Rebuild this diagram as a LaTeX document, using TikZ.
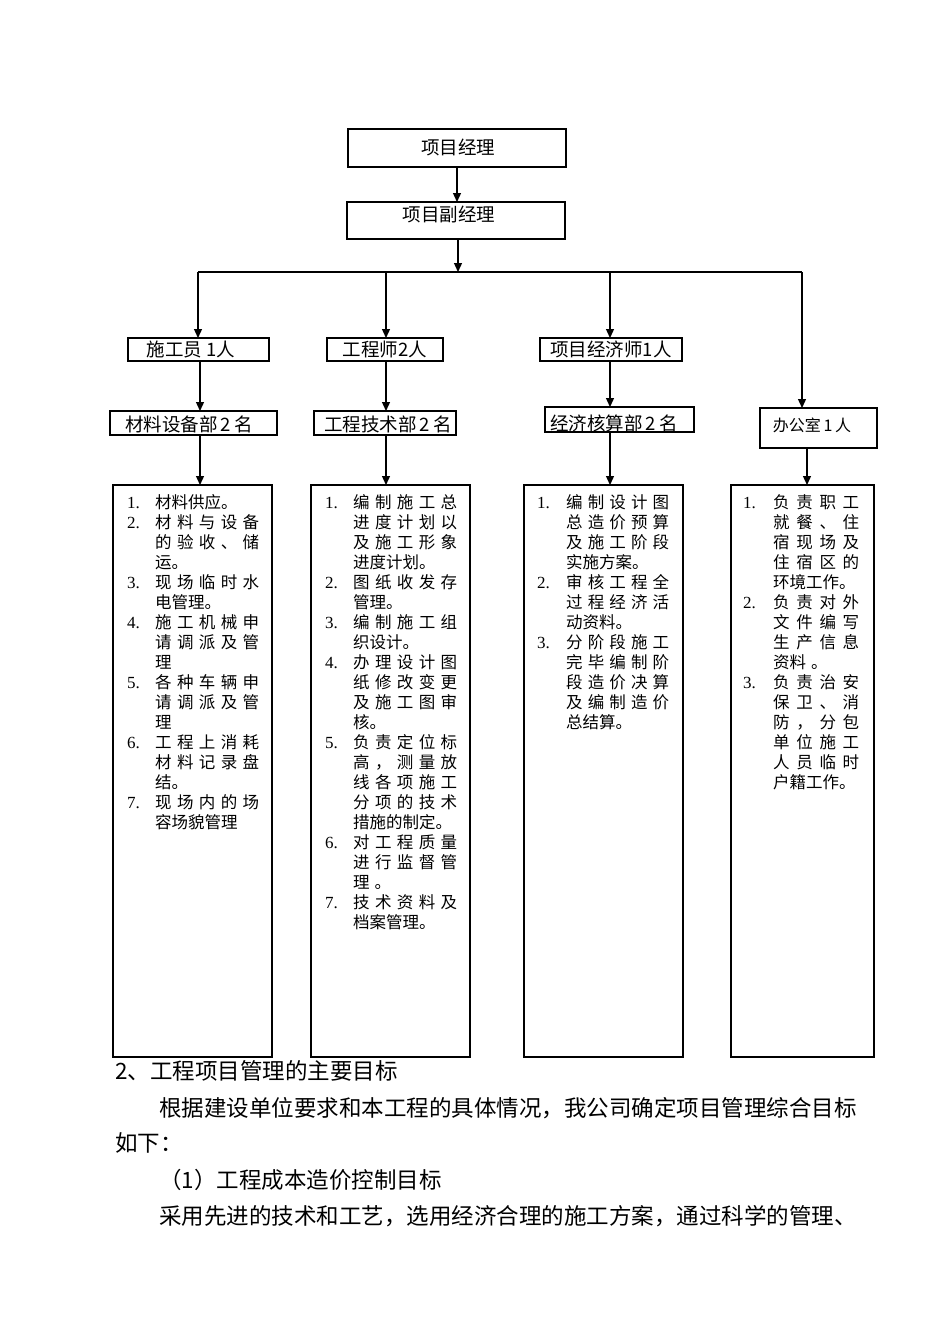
\documentclass[tikz,border=0pt]{standalone}
\usepackage{fontspec}
\setmainfont{Liberation Serif}
\newfontfamily\song{Noto Sans CJK SC}
\usetikzlibrary{arrows.meta}
\newlength\jw
\newcommand\J[1]{\makebox[\jw][s]{#1}}
\begin{document}
\begin{tikzpicture}[x=1pt,y=1pt,
  box/.style={draw, line width=1.4pt, inner sep=0pt, outer sep=0pt},
  hd/.style={font=\song\fontsize{18.5}{18.5}\selectfont, inner sep=0pt},
  hds/.style={font=\song\fontsize{16}{16}\selectfont, inner sep=0pt},
  lt/.style={font=\song\fontsize{16.5}{20}\selectfont, inner sep=0pt, anchor=base west},
  num/.style={font=\fontsize{17}{20}\selectfont, inner sep=0pt, anchor=base west},
  bt/.style={font=\song\fontsize{22.5}{22.5}\selectfont, inner sep=0pt, anchor=base west},
  arr/.style={line width=1.3pt, -{Triangle[length=9pt,width=8pt]}},
  ln/.style={line width=1.3pt}]
\useasboundingbox (0,0) rectangle (950,-1344);

% top boxes
\node[box, minimum width=218, minimum height=38] (pm) at (457,-148) {};
\node[hd] (pmT) at (458,-147) {项目经理};
\node[box, minimum width=218, minimum height=37] (vpm) at (456,-220.5) {};
\node[hd] (vpmT) at (449,-214) {项目副经理};

% row 2
\node[box, minimum width=141, minimum height=23] (r2a) at (198.5,-349.5) {};
\node[hd] (r2aT) at (191,-349) {施工员 1人};
\node[box, minimum width=116, minimum height=23] (r2b) at (385,-349.5) {};
\node[hd] (r2bT) at (385,-349) {工程师2人};
\node[box, minimum width=142, minimum height=23] (r2c) at (611,-349.5) {};
\node[hd] (r2cT) at (611,-349) {项目经济师1人};

% row 3
\node[box, minimum width=167, minimum height=24] (r3a) at (193.5,-423) {};
\node[hd] (r3aT) at (189,-424) {材料设备部\,2\,名};
\node[box, minimum width=142, minimum height=24] (r3b) at (385,-423) {};
\node[hd] (r3bT) at (388,-424) {工程技术部\,2\,名};
\node[box, minimum width=149, minimum height=25] (r3c) at (619.5,-419.5) {};
\node[hd] (r3cT) at (614,-423) {经济核算部\,2\,名};
\node[box, minimum width=117, minimum height=40] (r3d) at (818.5,-428) {};
\node[hds] (r3dT) at (812,-425) {办公室\,1\,人};

% big boxes
\node[box, minimum width=159, minimum height=572] (bA) at (192.5,-771) {};
\node[box, minimum width=159, minimum height=572] (bB) at (390.5,-771) {};
\node[box, minimum width=159, minimum height=572] (bC) at (603.5,-771) {};
\node[box, minimum width=143, minimum height=572] (bD) at (802.5,-771) {};

% connectors
\coordinate (h1) at (198,-272);
\coordinate (h2) at (386,-272);
\coordinate (h3) at (610,-272);
\coordinate (h4) at (802,-272);
\coordinate (hm) at (458,-272);
\coordinate (cA) at (200,0);
\coordinate (cB) at (386,0);
\coordinate (cC) at (610,0);
\coordinate (cD) at (807,0);
\draw[arr] (pm.south) -- (pm.south |- vpm.north);
\draw[arr] (vpm.south -| hm) -- (hm);
\draw[ln] (h1) -- (h4);
\draw[arr] (h1) -- (h1 |- r2a.north);
\draw[arr] (h2) -- (h2 |- r2b.north);
\draw[arr] (h3) -- (h3 |- r2c.north);
\draw[arr] (h4) -- (h4 |- r3d.north);
\draw[arr] (r2a.south -| cA) -- (r3a.north -| cA);
\draw[arr] (r2b.south -| cB) -- (r3b.north -| cB);
\draw[arr] (r2c.south -| cC) -- (r3c.north -| cC);
\draw[arr] (r3a.south -| cA) -- (bA.north -| cA);
\draw[arr] (r3b.south -| cB) -- (bB.north -| cB);
\draw[arr] (r3c.south -| cC) -- (bC.north -| cC);
\draw[arr] (r3d.south -| cD) -- (bD.north -| cD);

% list A
\setlength\jw{104pt}
\foreach \t [count=\i] in {材料供应。,\J{材 料 与 设 备},\J{的 验 收 、 储},运。,\J{现 场 临 时 水},电管理。,\J{施 工 机 械 申},\J{请 调 派 及 管},理,\J{各 种 车 辆 申},\J{请 调 派 及 管},理,\J{工 程 上 消 耗},\J{材 料 记 录 盘},结。,\J{现 场 内 的 场},容场貌管理}
  \node[lt] (A\i) at (155,{-508-20*(\i-1)}) {\t};
\foreach \n/\l in {1/1,2/2,3/5,4/7,5/10,6/13,7/16}
  \node[num] (An\n) at (127,{-508-20*(\l-1)}) {\n.};

% list B
\foreach \t [count=\i] in {\J{编 制 施 工 总},\J{进 度 计 划 以},\J{及 施 工 形 象},进度计划。,\J{图 纸 收 发 存},管理。,\J{编 制 施 工 组},织设计。,\J{办 理 设 计 图},\J{纸 修 改 变 更},\J{及 施 工 图 审},核。,\J{负 责 定 位 标},\J{高 ， 测 量 放},\J{线 各 项 施 工},\J{分 项 的 技 术},措施的制定。,\J{对 工 程 质 量},\J{进 行 监 督 管},理\hspace{5pt}。,\J{技 术 资 料 及},档案管理。}
  \node[lt] (B\i) at (353,{-508-20*(\i-1)}) {\t};
\foreach \n/\l in {1/1,2/5,3/7,4/9,5/13,6/18,7/21}
  \node[num] (Bn\n) at (325,{-508-20*(\l-1)}) {\n.};

% list C
\setlength\jw{103pt}
\foreach \t [count=\i] in {\J{编 制 设 计 图},\J{总 造 价 预 算},\J{及 施 工 阶 段},实施方案。,\J{审 核 工 程 全},\J{过 程 经 济 活},动资料。,\J{分 阶 段 施 工},\J{完 毕 编 制 阶},\J{段 造 价 决 算},\J{及 编 制 造 价},总结算。}
  \node[lt] (C\i) at (566,{-508-20*(\i-1)}) {\t};
\foreach \n/\l in {1/1,2/5,3/8}
  \node[num] (Cn\n) at (537,{-508-20*(\l-1)}) {\n.};

% list D
\setlength\jw{86pt}
\foreach \t [count=\i] in {\J{负 责 职 工},\J{就 餐 、 住},\J{宿 现 场 及},\J{住 宿 区 的},环境工作。,\J{负 责 对 外},\J{文 件 编 写},\J{生 产 信 息},资料\hspace{5pt}。,\J{负 责 治 安},\J{保 卫 、 消},\J{防 ， 分 包},\J{单 位 施 工},\J{人 员 临 时},户籍工作。}
  \node[lt] (D\i) at (773,{-508-20*(\i-1)}) {\t};
\foreach \n/\l in {1/1,2/6,3/10}
  \node[num] (Dn\n) at (743,{-508-20*(\l-1)}) {\n.};

% body text
\node[bt] (t1) at (115,-1079) {2、工程项目管理的主要目标};
\node[bt] (t2) at (159,-1116) {根据建设单位要求和本工程的具体情况，我公司确定项目管理综合目标};
\node[bt] (t3) at (115,-1151) {如下：};
\node[bt] (t4) at (159,-1188) {（1）工程成本造价控制目标};
\node[bt] (t5) at (159,-1224) {采用先进的技术和工艺，选用经济合理的施工方案，通过科学的管理、};
\end{tikzpicture}
\end{document}
